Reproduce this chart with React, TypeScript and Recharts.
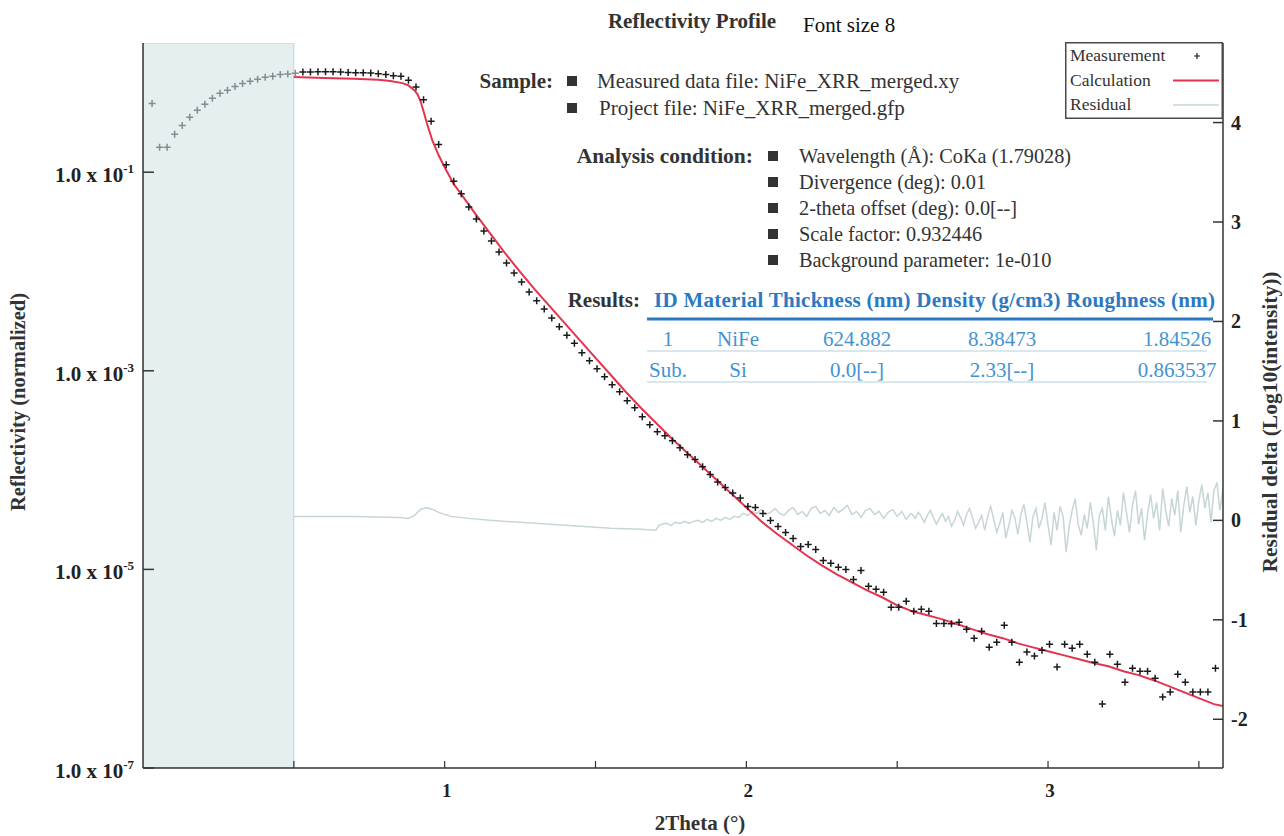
import React from 'react';
import {
  ComposedChart,
  XAxis,
  YAxis,
  Scatter,
  Line,
  ReferenceArea,
  Legend,
} from 'recharts';

const FONT = "'Liberation Serif', 'Times New Roman', serif";

// measured reflectivity, [2theta, normalized reflectivity]
const measured: [number, number][] = [
  [0.03, 0.493], [0.055, 0.178], [0.08, 0.178], [0.105, 0.241], [0.13, 0.296],
  [0.155, 0.357], [0.18, 0.42], [0.205, 0.482], [0.23, 0.555], [0.255, 0.622],
  [0.28, 0.667], [0.305, 0.731], [0.33, 0.783], [0.355, 0.822], [0.38, 0.861],
  [0.405, 0.902], [0.43, 0.923], [0.455, 0.966], [0.48, 0.977], [0.505, 0.989],
  [0.53, 1.019], [0.555, 1.019], [0.58, 1.028], [0.605, 1.028], [0.63, 1.028],
  [0.655, 1.019], [0.68, 1.012], [0.705, 1.005], [0.73, 1.005], [0.755, 0.995],
  [0.78, 0.982], [0.805, 0.966], [0.83, 0.937], [0.855, 0.923], [0.88, 0.841],
  [0.905, 0.719], [0.93, 0.538], [0.955, 0.326], [0.98, 0.19], [1.005, 0.119],
  [1.03, 0.0812], [1.055, 0.0608], [1.08, 0.0445], [1.105, 0.0337], [1.13, 0.0255],
  [1.155, 0.0203], [1.18, 0.0157], [1.205, 0.0122], [1.23, 0.00966], [1.255, 0.00784],
  [1.28, 0.00622], [1.305, 0.00506], [1.33, 0.0042], [1.355, 0.00341], [1.38, 0.00277],
  [1.405, 0.00228], [1.43, 0.00189], [1.455, 0.00152], [1.48, 0.00126], [1.505, 0.00105],
  [1.53, 8.71e-4], [1.555, 7.23e-4], [1.58, 6.15e-4], [1.605, 4.99e-4], [1.63, 4.25e-4],
  [1.655, 3.45e-4], [1.68, 2.86e-4], [1.705, 2.44e-4], [1.73, 2.22e-4], [1.755, 1.98e-4],
  [1.78, 1.68e-4], [1.805, 1.43e-4], [1.83, 1.28e-4], [1.855, 1.08e-4], [1.88, 9.02e-5],
  [1.905, 7.57e-5], [1.93, 6.67e-5], [1.955, 5.87e-5], [1.98, 5.24e-5], [2.005, 4.3e-5],
  [2.03, 4.2e-5], [2.055, 3.66e-5], [2.08, 3.1e-5], [2.105, 2.7e-5], [2.13, 2.35e-5],
  [2.155, 2.05e-5], [2.18, 1.7e-5], [2.205, 1.78e-5], [2.23, 1.59e-5], [2.255, 1.23e-5],
  [2.28, 1.15e-5], [2.305, 1.05e-5], [2.33, 1.0e-5], [2.355, 7.93e-6], [2.38, 9.77e-6],
  [2.405, 6.75e-6], [2.43, 6.3e-6], [2.455, 5.87e-6], [2.48, 4.15e-6], [2.505, 4.15e-6],
  [2.53, 4.77e-6], [2.555, 3.78e-6], [2.58, 3.96e-6], [2.605, 3.78e-6], [2.63, 2.86e-6],
  [2.655, 2.86e-6], [2.68, 2.83e-6], [2.705, 2.93e-6], [2.73, 2.49e-6], [2.755, 2.03e-6],
  [2.78, 2.38e-6], [2.805, 1.64e-6], [2.83, 1.85e-6], [2.855, 2.74e-6], [2.88, 1.85e-6],
  [2.905, 1.16e-6], [2.93, 1.47e-6], [2.955, 1.34e-6], [2.98, 1.53e-6], [3.005, 1.76e-6],
  [3.03, 1.04e-6], [3.055, 1.76e-6], [3.08, 1.61e-6], [3.105, 1.76e-6], [3.13, 1.4e-6],
  [3.155, 1.16e-6], [3.18, 4.4e-7], [3.205, 1.4e-6], [3.23, 1.11e-6], [3.255, 7.31e-7],
  [3.28, 1.01e-6], [3.305, 9.44e-7], [3.33, 9.44e-7], [3.355, 8.03e-7], [3.38, 5.18e-7],
  [3.405, 5.81e-7], [3.43, 8.81e-7], [3.455, 7.31e-7], [3.48, 5.81e-7], [3.505, 5.81e-7],
  [3.53, 5.81e-7], [3.555, 1.01e-6],
];

// fitted curve
const calculated: [number, number][] = [
  [0.5, 0.908], [0.6, 0.887], [0.7, 0.875], [0.78, 0.851], [0.82, 0.828],
  [0.86, 0.789], [0.88, 0.748], [0.9, 0.667], [0.91, 0.608], [0.92, 0.518],
  [0.93, 0.41], [0.94, 0.318], [0.96, 0.205], [0.98, 0.148], [1.0, 0.112],
  [1.03, 0.0757], [1.05, 0.0629], [1.1, 0.0387], [1.15, 0.0244], [1.2, 0.01535],
  [1.25, 0.00989], [1.3, 0.00652], [1.35, 0.0044], [1.4, 0.00297], [1.45, 0.002],
  [1.5, 0.00135], [1.55, 9.12e-4], [1.6, 6.15e-4], [1.65, 4.25e-4], [1.7, 3.0e-4],
  [1.75, 2.12e-4], [1.8, 1.53e-4], [1.85, 1.11e-4], [1.9, 8.04e-5], [1.95, 5.81e-5],
  [2.0, 4.2e-5], [2.05, 3.03e-5], [2.1, 2.3e-5], [2.15, 1.78e-5], [2.2, 1.38e-5],
  [2.25, 1.1e-5], [2.3, 8.91e-6], [2.35, 7.4e-6], [2.4, 6.15e-6], [2.45, 5.24e-6],
  [2.5, 4.35e-6], [2.55, 3.78e-6], [2.6, 3.45e-6], [2.65, 3.14e-6], [2.7, 2.8e-6],
  [2.75, 2.49e-6], [2.8, 2.22e-6], [2.85, 2.03e-6], [2.9, 1.8e-6], [2.95, 1.64e-6],
  [3.0, 1.5e-6], [3.05, 1.37e-6], [3.1, 1.25e-6], [3.15, 1.14e-6], [3.2, 1.06e-6],
  [3.25, 9.44e-7], [3.3, 8.61e-7], [3.35, 7.66e-7], [3.4, 6.67e-7], [3.45, 5.81e-7],
  [3.5, 5.06e-7], [3.55, 4.4e-7], [3.58, 4.2e-7],
];

// residual delta, log10(intensity)
const residual: [number, number][] = [
  [0.5, 0.04], [0.7, 0.04], [0.85, 0.03], [0.88, 0.02], [0.9, 0.05],
  [0.92, 0.11], [0.94, 0.13], [0.96, 0.11], [0.98, 0.08], [1.02, 0.04],
  [1.08, 0.02], [1.15, 0.0], [1.25, -0.02], [1.35, -0.04], [1.45, -0.06],
  [1.55, -0.08], [1.65, -0.09], [1.7, -0.1], [1.71, -0.05],
  [1.72, -0.04], [1.735, -0.03], [1.75, -0.05], [1.765, -0.02], [1.78, -0.03],
  [1.795, -0.01], [1.81, -0.03], [1.825, -0.01], [1.84, 0.0], [1.855, -0.02],
  [1.87, 0.01], [1.885, -0.01], [1.9, 0.02], [1.915, 0.0], [1.93, 0.03],
  [1.945, 0.01], [1.96, 0.04], [1.975, 0.03], [1.99, 0.07], [2.005, 0.05],
  [2.02, 0.09], [2.035, 0.07], [2.05, 0.11], [2.065, 0.06], [2.08, 0.08],
  [2.095, 0.12], [2.11, 0.07], [2.125, 0.05], [2.14, 0.1], [2.155, 0.13],
  [2.17, 0.06], [2.185, 0.09], [2.2, 0.04], [2.215, 0.12], [2.23, 0.14],
  [2.245, 0.07], [2.26, 0.1], [2.275, 0.05], [2.29, 0.13], [2.305, 0.08],
  [2.32, 0.11], [2.335, 0.15], [2.35, 0.06], [2.365, 0.09], [2.38, 0.03],
  [2.395, 0.1], [2.41, 0.12], [2.425, 0.06], [2.44, 0.09], [2.455, 0.02],
  [2.47, 0.08], [2.485, 0.11], [2.5, 0.04], [2.515, 0.09], [2.53, 0.01],
  [2.545, 0.07],
  [2.55, 0.06], [2.56, 0.02], [2.57, 0.08], [2.58, 0.04], [2.59, -0.02],
  [2.6, 0.05], [2.61, 0.1], [2.62, 0.03], [2.63, -0.04], [2.64, 0.02],
  [2.65, 0.07], [2.66, -0.01], [2.67, 0.04], [2.68, -0.06], [2.69, 0.0],
  [2.7, 0.09], [2.71, 0.03], [2.72, -0.05], [2.73, 0.06], [2.74, 0.12],
  [2.75, 0.02], [2.76, -0.08], [2.77, -0.02], [2.78, 0.05], [2.79, -0.1],
  [2.8, 0.04], [2.81, 0.14], [2.82, 0.01], [2.83, -0.12], [2.84, -0.03],
  [2.85, 0.08], [2.86, -0.18], [2.87, -0.05], [2.88, 0.1], [2.89, 0.03],
  [2.9, -0.14], [2.91, 0.06], [2.92, 0.16], [2.93, -0.02], [2.94, -0.22],
  [2.95, 0.04], [2.96, 0.12], [2.97, -0.08], [2.98, 0.02], [2.99, 0.18],
  [3.0, -0.05], [3.01, -0.25], [3.02, 0.08], [3.03, -0.1], [3.04, 0.14],
  [3.05, 0.04], [3.06, -0.32], [3.07, -0.06], [3.08, 0.1], [3.09, 0.22],
  [3.1, -0.04], [3.11, -0.15], [3.12, 0.06], [3.13, -0.08], [3.14, 0.18],
  [3.15, -0.02], [3.16, -0.3], [3.17, 0.05], [3.18, 0.12], [3.19, -0.1],
  [3.2, 0.24], [3.21, 0.02], [3.22, -0.16], [3.23, 0.1], [3.24, -0.05],
  [3.25, 0.28], [3.26, 0.08], [3.27, -0.12], [3.28, 0.15], [3.29, 0.3],
  [3.3, -0.04], [3.31, 0.12], [3.32, -0.2], [3.33, 0.06], [3.34, 0.26],
  [3.35, 0.02], [3.36, 0.18], [3.37, -0.1], [3.38, 0.32], [3.39, 0.1],
  [3.4, -0.06], [3.41, 0.22], [3.42, 0.05], [3.43, 0.3], [3.44, -0.12],
  [3.45, 0.15], [3.46, 0.34], [3.47, 0.08], [3.48, 0.24], [3.49, -0.05],
  [3.5, 0.2], [3.51, 0.36], [3.52, 0.12], [3.53, 0.28], [3.54, -0.02],
  [3.55, 0.3], [3.56, 0.38], [3.57, 0.1], [3.58, 0.32],
];

const thetaTicks = [0.5, 1, 1.5, 2, 2.5, 3, 3.5];
const reflTicks = [1e-7, 1e-5, 1e-3, 1e-1];
const deltaTicks = [-2, -1, 0, 1, 2, 3, 4];
const excludedRange: [number, number] = [0, 0.5];

const sampleLines = ['Measured data file: NiFe_XRR_merged.xy', 'Project file: NiFe_XRR_merged.gfp'];
const conditionLines = [
  'Wavelength (Å): CoKa (1.79028)',
  'Divergence (deg): 0.01',
  '2-theta offset (deg): 0.0[--]',
  'Scale factor: 0.932446',
  'Background parameter: 1e-010',
];
const tableHeader = 'ID Material Thickness (nm) Density (g/cm3) Roughness (nm)';
const tableRows = [
  ['1', 'NiFe', '624.882', '8.38473', '1.84526'],
  ['Sub.', 'Si', '0.0[--]', '2.33[--]', '0.863537'],
];
const legendOrder = ['Measurement', 'Calculation', 'Residual'];

const measData = measured.map(([theta, r]) => ({ theta, r }));
const calcData = calculated.map(([theta, calc]) => ({ theta, calc }));
const resData = residual.map(([theta, delta]) => ({ theta, delta }));

function Cross(props: any) {
  const { cx, cy, payload } = props;
  const c = payload.theta < 0.51 ? '#7f8f8f' : '#1a1a1a';
  return (
    <path
      d={`M${cx - 3.5},${cy}H${cx + 3.5}M${cx},${cy - 3.5}V${cy + 3.5}`}
      stroke={c}
      strokeWidth={1.5}
    />
  );
}

function LeftTick(props: any) {
  const { x, y, payload } = props;
  const exp = Math.round(Math.log10(payload.value));
  return (
    <g>
      <line x1={x} y1={y} x2={x + 11} y2={y} stroke="#333" strokeWidth={1.5} />
      <text x={x - 9} y={y + 10} textAnchor="end" fontFamily={FONT} fontWeight="bold" fontSize={21} fill="#222">
        1.0 x 10<tspan dy={-9} fontSize={13}>{exp}</tspan>
      </text>
    </g>
  );
}

function RightTick(props: any) {
  const { x, y, payload } = props;
  return (
    <g>
      <line x1={x} y1={y} x2={x - 10} y2={y} stroke="#333" strokeWidth={1.5} />
      <text x={x + 8} y={y + 7} fontFamily={FONT} fontWeight="bold" fontSize={20} fill="#222">
        {payload.value}
      </text>
    </g>
  );
}

function BottomTick(props: any) {
  const { x, y, payload } = props;
  const v = payload.value;
  return (
    <g>
      <line x1={x} y1={y} x2={x} y2={y - 7} stroke="#333" strokeWidth={1.2} />
      {Number.isInteger(v) && (
        <text x={x + 2} y={y + 29} textAnchor="middle" fontFamily={FONT} fontWeight="bold" fontSize={19} fill="#222">
          {v}
        </text>
      )}
    </g>
  );
}

function TopTick(props: any) {
  const { x, y } = props;
  return <line x1={x} y1={y} x2={x} y2={y + 9} stroke="#333" strokeWidth={1.2} />;
}

function LegendBox(props: any) {
  const items = [...(props.payload || [])].sort(
    (a: any, b: any) => legendOrder.indexOf(a.value) - legendOrder.indexOf(b.value)
  );
  return (
    <svg width={158} height={77} style={{ display: 'block' }}>
      <rect x={0.75} y={0.75} width={156.5} height={75.5} fill="#fff" stroke="#4a4a4a" strokeWidth={1.5} />
      {items.map((it: any, i: number) => {
        const cy = 14 + i * 24.5;
        return (
          <g key={it.value}>
            <text x={5} y={cy + 5} fontFamily={FONT} fontSize={17.5} fill="#333">
              {it.value}
            </text>
            {it.type === 'cross' ? (
              <path d={`M${129},${cy}H${135}M${132},${cy - 3}V${cy + 3}`} stroke={it.color} strokeWidth={1.2} />
            ) : (
              <line x1={108} x2={154} y1={cy} y2={cy} stroke={it.color} strokeWidth={i === 1 ? 2 : 1.5} />
            )}
          </g>
        );
      })}
    </svg>
  );
}

function Annotations() {
  const blue = '#2b79c2';
  const lightBlue = '#4393d2';
  const colX = [668, 738, 857, 1002, 1177];
  return (
    <svg
      width={1284}
      height={836}
      style={{ position: 'absolute', left: 0, top: 0, pointerEvents: 'none' }}
      fontFamily={FONT}
    >
      <text x={692} y={28} textAnchor="middle" fontWeight="bold" fontSize={21} fill="#333">
        Reflectivity Profile
      </text>
      <text x={803} y={32} fontSize={21} fill="#111">
        Font size 8
      </text>
      <text transform="translate(25,402) rotate(-90)" textAnchor="middle" fontWeight="bold" fontSize={20.5} fill="#333">
        Reflectivity (normalized)
      </text>
      <text transform="translate(1277,422) rotate(-90)" textAnchor="middle" fontWeight="bold" fontSize={21.5} fill="#333">
        Residual delta (Log10(intensity))
      </text>
      <text x={700} y={830} textAnchor="middle" fontWeight="bold" fontSize={21} fill="#333">
        2Theta (°)
      </text>

      <text x={553} y={88} textAnchor="end" fontWeight="bold" fontSize={21} fill="#333">
        Sample:
      </text>
      {sampleLines.map((s, i) => (
        <g key={s}>
          <rect x={567} y={76 + i * 27} width={10} height={10} fill="#333" />
          <text x={597 + i * 2} y={88 + i * 27} fontSize={21} fill="#333">
            {s}
          </text>
        </g>
      ))}

      <text x={753} y={163} textAnchor="end" fontWeight="bold" fontSize={21.5} fill="#333">
        Analysis condition:
      </text>
      {conditionLines.map((s, i) => (
        <g key={s}>
          <rect x={768} y={151 + i * 26} width={10} height={10} fill="#333" />
          <text x={799} y={163 + i * 26} fontSize={20.3} fill="#333">
            {s}
          </text>
        </g>
      ))}

      <text x={640} y={307} textAnchor="end" fontWeight="bold" fontSize={21} fill="#333">
        Results:
      </text>
      <text x={654} y={307} fontWeight="bold" fontSize={21} fill={blue} textLength={561}>
        {tableHeader}
      </text>
      <line x1={647} x2={1213} y1={319} y2={319} stroke={blue} strokeWidth={3} />
      {tableRows.map((row, r) => (
        <g key={row[0]}>
          {row.map((cell, c) => (
            <text key={c} x={colX[c]} y={346 + r * 31} textAnchor="middle" fontSize={21} fill={lightBlue}>
              {cell}
            </text>
          ))}
          <line x1={647} x2={1207} y1={351 + r * 31} y2={351 + r * 31} stroke="#cddfe9" strokeWidth={1.5} />
        </g>
      ))}
    </svg>
  );
}

export default function App() {
  return (
    <div style={{ position: 'absolute', left: 0, top: 0, width: 1284, height: 836, background: '#fff' }}>
      <ComposedChart width={1284} height={836} margin={{ top: 43, right: 0, bottom: 0, left: 0 }}>
        <XAxis
          type="number"
          dataKey="theta"
          domain={[0, 3.58]}
          ticks={thetaTicks}
          interval={0}
          allowDataOverflow
          height={68}
          tickSize={0}
          tickMargin={0}
          tickLine={false}
          tick={<BottomTick />}
          axisLine={{ stroke: '#333', strokeWidth: 1.5 }}
        />
        <XAxis
          xAxisId="top"
          orientation="top"
          type="number"
          dataKey="theta"
          domain={[0, 3.58]}
          ticks={thetaTicks}
          interval={0}
          allowDataOverflow
          height={0}
          tickSize={0}
          tickMargin={0}
          tickLine={false}
          tick={<TopTick />}
          axisLine={{ stroke: '#b3c4c4', strokeWidth: 1.5 }}
        />
        <YAxis
          yAxisId="left"
          scale="log"
          type="number"
          domain={[1e-7, 2]}
          ticks={reflTicks}
          interval={0}
          allowDataOverflow
          width={143}
          tickSize={0}
          tickMargin={0}
          tickLine={false}
          tick={<LeftTick />}
          axisLine={{ stroke: '#333', strokeWidth: 1.5 }}
        />
        <YAxis
          yAxisId="right"
          orientation="right"
          type="number"
          domain={[-2.49, 4.8]}
          ticks={deltaTicks}
          interval={0}
          allowDataOverflow
          width={61}
          tickSize={0}
          tickMargin={0}
          tickLine={false}
          tick={<RightTick />}
          axisLine={{ stroke: '#333', strokeWidth: 1.5 }}
        />
        <ReferenceArea
          yAxisId="left"
          x1={excludedRange[0]}
          x2={excludedRange[1]}
          y1={1e-7}
          y2={2}
          fill="#e6efef"
          fillOpacity={1}
          stroke="#c3d2d2"
          strokeWidth={1}
          ifOverflow="hidden"
        />
        <Line
          yAxisId="right"
          data={resData}
          dataKey="delta"
          name="Residual"
          stroke="#c6d6d6"
          strokeWidth={1.5}
          dot={false}
          legendType="line"
          isAnimationActive={false}
        />
        <Line
          yAxisId="left"
          data={calcData}
          dataKey="calc"
          name="Calculation"
          stroke="#e5334f"
          strokeWidth={2}
          dot={false}
          legendType="line"
          isAnimationActive={false}
        />
        <Scatter
          yAxisId="left"
          data={measData}
          dataKey="r"
          name="Measurement"
          fill="#1a1a1a"
          shape={<Cross />}
          legendType="cross"
          isAnimationActive={false}
        />
        <Legend
          layout="horizontal"
          verticalAlign="middle"
          align="center"
          wrapperStyle={{ left: 1065, top: 42, width: 158, height: 77 }}
          content={<LegendBox />}
        />
      </ComposedChart>
      <Annotations />
    </div>
  );
}
